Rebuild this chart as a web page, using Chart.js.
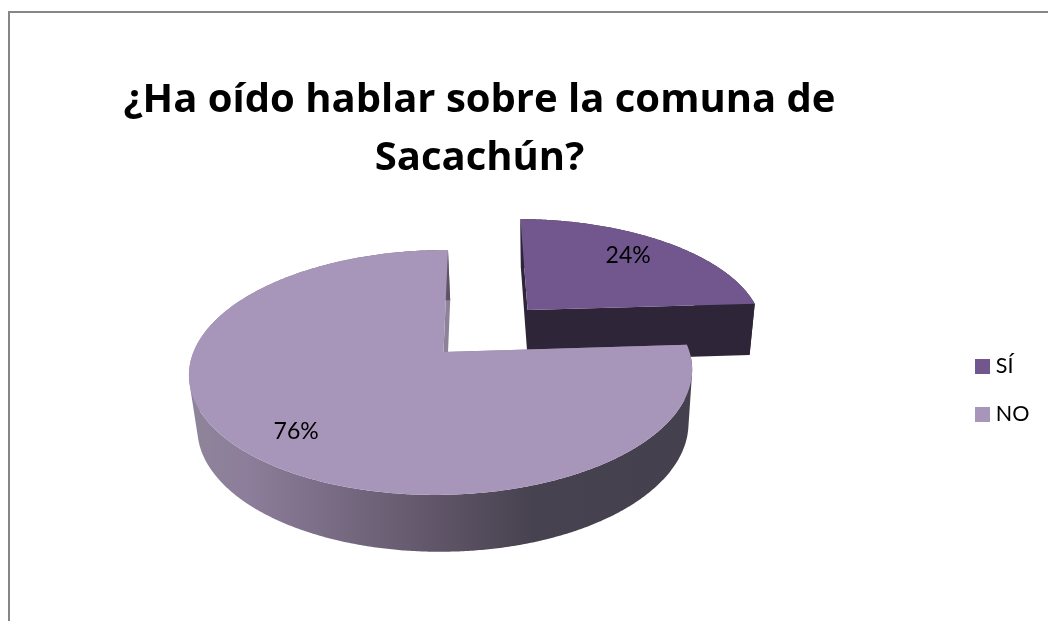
<!DOCTYPE html>
<html>
<head>
<meta charset="utf-8">
<style>
html,body{margin:0;padding:0;background:#fff;width:1048px;height:621px;overflow:hidden}
#wrap{position:absolute;left:0;top:0;width:1048px;height:621px}
#frame{position:absolute;left:8px;top:11px;right:0;bottom:0;border-top:2px solid #868686;border-left:2px solid #868686}
canvas{position:absolute;left:0;top:0}
</style>
<script src="https://cdn.jsdelivr.net/npm/chart.js@4"></script>
</head>
<body>
<div id="wrap"><div id="frame"></div><canvas id="c" width="1048" height="621"></canvas></div>
<script>
const titleLines = ["¿Ha oído hablar sobre la comuna de", "Sacachún?"];
const categories = ["SÍ", "NO"];
const values = [24, 76];
const topColors = ["#71578E", "#A796BA"];
const explode = [128, 0];

const wallSolid = ["#2E2539", null];
const wallStops = [[0, "#8E8499"], [0.1, "#8D7E9B"], [0.5, "#5E5466"], [0.68, "#47424F"], [1, "#44404D"]];
const radialWall = ["#2E2539", "#8D8298"];

// camera that lays the flat pie on its side
const CAM = {b: 0.48, c: 0.167, e: 0.008, g: -0.0212, bb: 0.493, depth: 53, shrink: 0.976, dx: 2.3};
const LABEL_R = 0.78;
const LABEL_NUDGE = [[-8.5, 0], [3, 4.5]];
const PIE_BOX = {left: 0, right: 887, top: 190, bottom: 514};
const LEGEND_BOX = {left: 953.5, top: 80, bottom: 701};
const TITLE_BOX = {left: 0, right: 959};

function project(arc, u, v, low) {
  const R = arc.outerRadius, w = 1 - CAM.c * v + CAM.e * u;
  let x = arc.x + (R * u + CAM.g * R * v) / w;
  let y = arc.y + CAM.b * R * v / w;
  if (low) {
    x = arc.x + CAM.dx + CAM.shrink * (x - arc.x);
    y = arc.y + CAM.depth + CAM.bb * R * v / (1 - CAM.c * v);
  }
  return [x, y];
}
function rimPoints(arc, low) {
  const R = arc.outerRadius, off = (arc.options.offset || 0) / R;
  const mid = (arc.startAngle + arc.endAngle) / 2;
  const ou = Math.cos(mid) * off, ov = Math.sin(mid) * off;
  const n = Math.max(2, Math.ceil((arc.endAngle - arc.startAngle) / 0.008)), pts = [];
  for (let i = 0; i <= n; i++) {
    const t = arc.startAngle + (arc.endAngle - arc.startAngle) * i / n;
    pts.push(project(arc, ou + Math.cos(t), ov + Math.sin(t), low));
  }
  return {pts, apex: project(arc, ou, ov, low)};
}
function signedArea(q) {
  let s = 0;
  q.forEach((p, i) => { const r = q[(i + 1) % q.length]; s += p[0] * r[1] - r[0] * p[1]; });
  return s;
}
function addQuad(ctx, q) {
  const pts = signedArea(q) < 0 ? q.slice().reverse() : q;
  pts.forEach((p, i) => i ? ctx.lineTo(p[0], p[1]) : ctx.moveTo(p[0], p[1]));
  ctx.closePath();
}

const tiltedPie = {
  id: 'tiltedPie',
  afterLayout(chart) {
    Object.assign(chart.chartArea, PIE_BOX, {width: PIE_BOX.right - PIE_BOX.left, height: PIE_BOX.bottom - PIE_BOX.top});
    chart.titleBlock.left = TITLE_BOX.left; chart.titleBlock.right = TITLE_BOX.right;
    const lg = chart.legend, wd = lg.right - lg.left;
    lg.left = LEGEND_BOX.left; lg.right = lg.left + wd;
    lg.top = LEGEND_BOX.top; lg.bottom = LEGEND_BOX.bottom;
  },
  beforeDatasetsDraw(chart) {
    const ctx = chart.ctx, arcs = chart.getDatasetMeta(0).data;
    arcs.forEach((arc, i) => {
      const hi = rimPoints(arc, false), lo = rimPoints(arc, true);
      const R = arc.outerRadius;
      let fill = wallSolid[i];
      if (!fill) {
        fill = ctx.createLinearGradient(arc.x - R, 0, arc.x + R, 0);
        wallStops.forEach(s => fill.addColorStop(s[0], s[1]));
      }
      const n = hi.pts.length - 1;
      // flat walls along the two radial cuts
      ctx.beginPath();
      addQuad(ctx, [hi.apex, hi.pts[0], lo.pts[0], lo.apex]);
      addQuad(ctx, [hi.apex, hi.pts[n], lo.pts[n], lo.apex]);
      ctx.fillStyle = radialWall[i];
      ctx.fill();
      // rim: all quads wound the same way, filled as a single union
      ctx.beginPath();
      for (let k = 0; k < n; k++) addQuad(ctx, [hi.pts[k], hi.pts[k + 1], lo.pts[k + 1], lo.pts[k]]);
      ctx.fillStyle = fill;
      ctx.fill('nonzero');
      // top face
      ctx.beginPath();
      ctx.moveTo(hi.apex[0], hi.apex[1]);
      hi.pts.forEach(p => ctx.lineTo(p[0], p[1]));
      ctx.closePath();
      ctx.fillStyle = topColors[i];
      ctx.fill();
    });
    const total = values.reduce((a, b) => a + b, 0);
    ctx.font = '23px Lato';
    ctx.fillStyle = '#000';
    ctx.textAlign = 'center';
    ctx.textBaseline = 'middle';
    arcs.forEach((arc, i) => {
      const mid = (arc.startAngle + arc.endAngle) / 2, off = (arc.options.offset || 0) / arc.outerRadius;
      const p = project(arc, Math.cos(mid) * (off + LABEL_R), Math.sin(mid) * (off + LABEL_R), false);
      ctx.fillText(Math.round(values[i] / total * 100) + '%', p[0] + LABEL_NUDGE[i][0], p[1] + LABEL_NUDGE[i][1]);
    });
    return false;
  }
};

new Chart(document.getElementById('c'), {
  type: 'pie',
  data: {
    labels: categories,
    datasets: [{data: values, backgroundColor: topColors, offset: explode, borderWidth: 0}]
  },
  options: {
    responsive: false,
    animation: false,
    radius: 248,
    plugins: {
      tooltip: {enabled: false},
      title: {
        display: true,
        text: titleLines,
        color: '#000',
        font: {family: '"Open Sans"', size: 40, weight: 'bold', lineHeight: 1.45},
        padding: {top: 72, bottom: 0}
      },
      legend: {
        position: 'right',
        align: 'center',
        labels: {
          color: '#000',
          font: {family: 'Lato', size: 21.5},
          boxWidth: 5, boxHeight: 5,
          padding: 26.5,
          generateLabels(chart) {
            const items = Chart.overrides.pie.plugins.legend.labels.generateLabels(chart);
            items.forEach((it, i) => { it.strokeStyle = topColors[i]; it.lineWidth = 10; });
            return items;
          }
        }
      }
    }
  },
  plugins: [tiltedPie]
});
</script>
</body>
</html>
